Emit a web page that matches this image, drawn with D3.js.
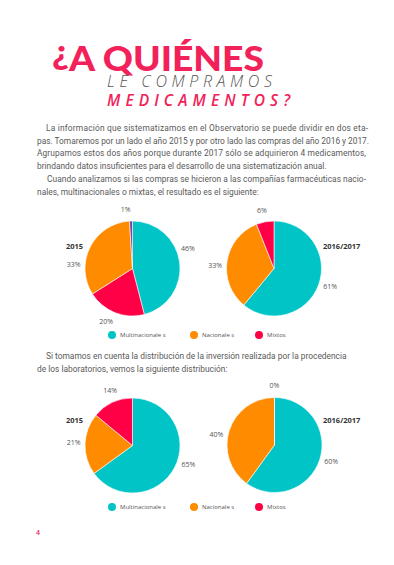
<!DOCTYPE html>
<html>
<head>
<meta charset="utf-8">
<script src="https://cdn.jsdelivr.net/npm/d3@7"></script>
<style>
  html, body { margin: 0; padding: 0; background: #fff; }
  svg { display: block; }
  .body-text { font-family: Roboto, sans-serif; font-size: 8.4px; fill: #5a5a5a; }
  .pct { font-family: "Open Sans", sans-serif; font-size: 7px; fill: #555; }
  .year { font-family: "Open Sans", sans-serif; font-size: 7.5px; font-weight: 700; fill: #333; }
  .legend { font-family: "Open Sans", sans-serif; font-size: 6px; fill: #555; }
</style>
</head>
<body>
<div id="page"></div>
<script>
// data
const keys2015Compras = ['multi', 'mixtos', 'nacionales', 'otros'];
const compras2015 = [46, 20, 33, 1];
const keys2016Compras = ['multi', 'nacionales', 'mixtos'];
const compras2016 = [61, 33, 6];
const keysInversion = ['multi', 'nacionales', 'mixtos'];
const inversion2015 = [65, 21, 14];
const inversion2016 = [60, 40, 0];
const yearLabels = ['2015', '2016/2017'];
const legendKeys = ['multi', 'nacionales', 'mixtos'];
const legendNames = ['Multinacionale s', 'Nacionale s', 'Mixtos'];

const colors = {
  multi: '#00c4c6',
  nacionales: '#ff8c00',
  mixtos: '#ff0046',
  otros: '#7b3fa3'
};
const pink = '#f2215a';

const width = 394;
const height = 565;
const radius = 47.5;
const labelRadius = 59;

const $svg = d3.select('#page').append('svg')
  .attr('width', width)
  .attr('height', height);

// title
const $title = $svg.append('text')
  .attr('x', 52).attr('y', 71)
  .attr('textLength', 212).attr('lengthAdjust', 'spacingAndGlyphs')
  .style('font-family', 'Lato, sans-serif')
  .style('font-weight', 900)
  .style('font-size', '35px')
  .style('fill', pink);
$title.append('tspan').attr('dy', -7).text('¿');
$title.append('tspan').attr('dy', 7).text('A QUIÉNES');

$svg.append('text')
  .attr('x', 107).attr('y', 86.5)
  .attr('textLength', 165).attr('lengthAdjust', 'spacing')
  .style('font-family', '"Open Sans", sans-serif')
  .style('font-style', 'italic')
  .style('font-weight', 300)
  .style('font-size', '16px')
  .style('fill', '#555')
  .text('LE COMPRAMOS');

$svg.append('text')
  .attr('x', 107).attr('y', 106)
  .attr('textLength', 183).attr('lengthAdjust', 'spacing')
  .style('font-family', '"Open Sans", sans-serif')
  .style('font-style', 'italic')
  .style('font-weight', 600)
  .style('font-size', '15.5px')
  .style('fill', pink)
  .text('MEDICAMENTOS?');

// body text: [text, x, y, justified width or 0]
const bodyLines = [
  ['La información que sistematizamos en el Observatorio se puede dividir en dos eta-', 46, 131, 322],
  ['pas. Tomaremos por un lado el año 2015 y por otro lado las compras del año 2016 y 2017.', 37, 143.5, 332],
  ['Agrupamos estos dos años porque durante 2017 sólo se adquirieron 4 medicamentos,', 37, 156, 329],
  ['brindando datos insuficientes para el desarrollo de una sistematización anual.', 37, 168.5, 0],
  ['Cuando analizamos si las compras se hicieron a las compañías farmacéuticas nacio-', 47, 182, 319],
  ['nales, multinacionales o mixtas, el resultado es el siguiente:', 37, 194.5, 0],
  ['Si tomamos en cuenta la distribución de la inversión realizada por la procedencia', 46, 359, 0],
  ['de los laboratorios, vemos la siguiente distribución:', 37, 372, 0]
];

$svg.append('g').selectAll('text')
  .data(bodyLines).enter().append('text')
  .attr('class', 'body-text')
  .attr('x', d => d[1])
  .attr('y', d => d[2])
  .attr('textLength', d => d[3] || null)
  .attr('lengthAdjust', d => d[3] ? 'spacing' : null)
  .text(d => d[0]);

// pies
const pie = d3.pie().sort(null).value(d => d.value);
const arc = d3.arc().innerRadius(0).outerRadius(radius);

function drawPie(cx, cy, keys, values, nudges) {
  const data = keys.map((k, i) => ({ key: k, value: values[i], nudge: nudges ? nudges[i] : 0 }));
  const $g = $svg.append('g').attr('transform', `translate(${cx},${cy})`);
  const arcs = pie(data);

  $g.selectAll('path')
    .data(arcs).enter().append('path')
    .attr('d', arc)
    .style('fill', d => colors[d.data.key])
    .style('stroke', '#fff')
    .style('stroke-width', 0.6);

  const labelAngle = d => (d.startAngle + d.endAngle) / 2 + d.data.nudge * Math.PI / 180;

  $g.selectAll('text')
    .data(arcs).enter().append('text')
    .attr('class', 'pct')
    .attr('text-anchor', 'middle')
    .attr('dy', '0.35em')
    .attr('x', d => Math.sin(labelAngle(d)) * labelRadius)
    .attr('y', d => -Math.cos(labelAngle(d)) * labelRadius)
    .text(d => `${d.data.value}%`);
}

drawPie(132.5, 268.5, keys2015Compras, compras2015, [-13, 5, -23, -5]);
drawPie(274, 268.5, keys2016Compras, compras2016, [-2, -6, -1]);
drawPie(132.5, 445.5, keysInversion, inversion2015, [-8, 1, 3]);
drawPie(274.5, 445, keysInversion, inversion2016, [-2, -8, 0]);

// year labels
[249, 423].forEach(y => {
  $svg.append('text').attr('class', 'year').attr('x', 66).attr('y', y).text(yearLabels[0]);
  $svg.append('text').attr('class', 'year').attr('x', 323).attr('y', y).text(yearLabels[1]);
});

// legends
const legendXPos = { multi: 112, nacionales: 194, mixtos: 259 };

function drawLegend(y) {
  const $l = $svg.append('g').attr('transform', `translate(0,${y})`);
  const $items = $l.selectAll('g')
    .data(legendKeys).enter().append('g')
    .attr('transform', d => `translate(${legendXPos[d]},0)`);
  $items.append('circle').attr('r', 4).style('fill', d => colors[d]);
  $items.append('text')
    .attr('class', 'legend')
    .attr('x', 8)
    .attr('dy', '0.35em')
    .text((d, i) => legendNames[i]);
}
drawLegend(335);
drawLegend(507);

// page number
$svg.append('text')
  .attr('x', 36).attr('y', 535)
  .style('font-family', '"Open Sans", sans-serif')
  .style('font-size', '7px')
  .style('font-weight', 600)
  .style('fill', pink)
  .text('4');
</script>
</body>
</html>
